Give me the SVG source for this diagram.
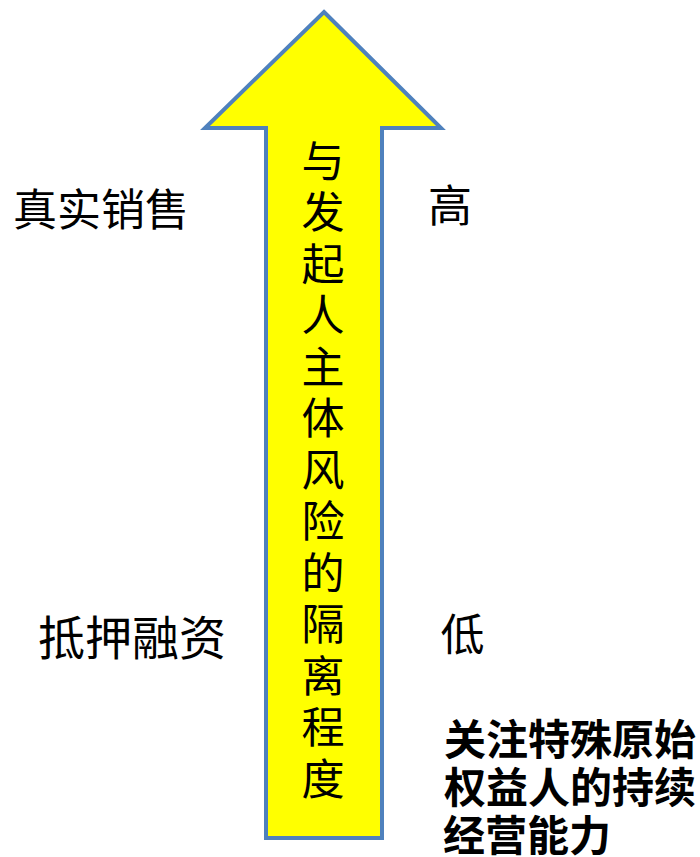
<svg xmlns="http://www.w3.org/2000/svg" width="700" height="857" viewBox="0 0 700 857">
<style>
.t{font-family:"Noto Sans CJK SC","Noto Sans",sans-serif;fill:#000;text-anchor:middle;dominant-baseline:central}
.v{font-size:43px}
.b{font-size:42px;font-weight:bold}
</style>
<rect width="700" height="857" fill="#fff"/>
<g id="arrow">
<path d="M324,12 L441,128 L382,128 L382,838 L266,838 L266,128 L205,128 Z" fill="#ffff00" stroke="#4f81bd" stroke-width="4" stroke-linejoin="miter"/>
<g class="t v">
<text x="323" y="157.5">与</text>
<text x="323" y="209">发</text>
<text x="323" y="260.5">起</text>
<text x="323" y="312">人</text>
<text x="323" y="363.5">主</text>
<text x="323" y="415">体</text>
<text x="323" y="466.5">风</text>
<text x="323" y="518">险</text>
<text x="323" y="569.5">的</text>
<text x="323" y="621">隔</text>
<text x="323" y="672.5">离</text>
<text x="323" y="724">程</text>
<text x="323" y="775.5">度</text>
</g>
</g>
<g id="label-sales"><text class="t" x="101" y="207" font-size="44">真实销售</text></g>
<g id="label-high"><text class="t" x="450" y="203" font-size="44">高</text></g>
<g id="label-mortgage"><text class="t" x="132" y="634" font-size="47">抵押融资</text></g>
<g id="label-low"><text class="t" x="462.5" y="632" font-size="44">低</text></g>
<g id="note" class="t b">
<text x="570" y="736">关注特殊原始</text>
<text x="570" y="784">权益人的持续</text>
<text x="527" y="832">经营能力</text>
</g>
</svg>
